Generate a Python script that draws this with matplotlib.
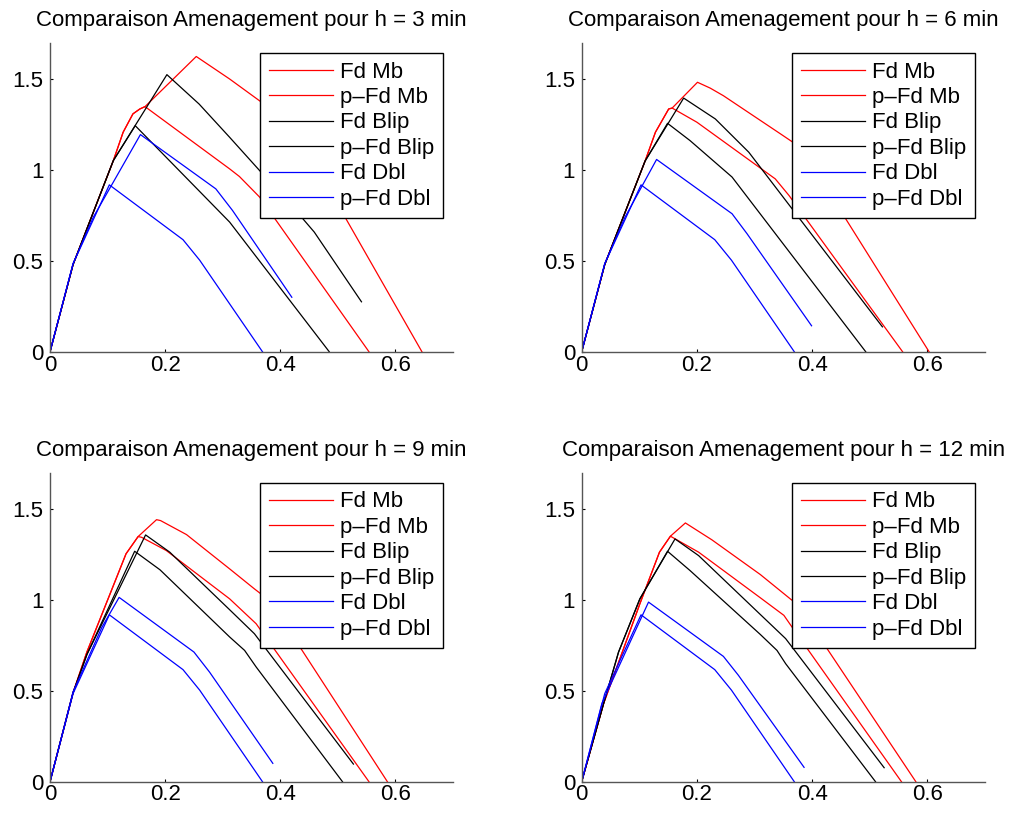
import matplotlib
matplotlib.use('Agg')
import matplotlib.pyplot as plt

plt.rcParams['font.family'] = ['Liberation Sans', 'DejaVu Sans']

#### values, one sublist per panel (h = 3, 6, 9, 12 min) ####
h_values = [3, 6, 9, 12]
labels = ['Fd Mb', 'p\u2013Fd Mb', 'Fd Blip', 'p\u2013Fd Blip', 'Fd Dbl', 'p\u2013Fd Dbl']
colors = ['r', 'r', 'k', 'k', 'b', 'b']

fd_mb_x = [[0, 0.04, 0.11, 0.127, 0.144, 0.156, 0.165, 0.254, 0.312, 0.364, 0.424, 0.646],
           [0, 0.04, 0.11, 0.128, 0.151, 0.157, 0.201, 0.223, 0.246, 0.345, 0.381, 0.603],
           [0, 0.04, 0.064, 0.132, 0.153, 0.185, 0.192, 0.237, 0.312, 0.355, 0.382, 0.586],
           [0, 0.038, 0.101, 0.135, 0.154, 0.18, 0.226, 0.31, 0.362, 0.375, 0.58]]
fd_mb_y = [[0, 0.48, 1.053, 1.209, 1.31, 1.337, 1.35, 1.626, 1.502, 1.382, 1.232, 0],
           [0, 0.48, 1.05, 1.209, 1.337, 1.342, 1.484, 1.452, 1.41, 1.2, 1.123, 0],
           [0, 0.49, 0.714, 1.255, 1.35, 1.443, 1.438, 1.361, 1.172, 1.062, 0.996, 0],
           [0, 0.43, 0.98, 1.264, 1.352, 1.425, 1.332, 1.141, 1.007, 0.975, 0]]

p_fd_mb_x = [[0, 0.04, 0.11, 0.127, 0.144, 0.156, 0.165, 0.312, 0.329, 0.364, 0.554],
             [0, 0.04, 0.11, 0.128, 0.151, 0.157, 0.2, 0.336, 0.36, 0.557],
             [0, 0.04, 0.064, 0.132, 0.153, 0.159, 0.202, 0.312, 0.358, 0.554],
             [0, 0.038, 0.101, 0.135, 0.154, 0.203, 0.31, 0.351, 0.365, 0.555]]
p_fd_mb_y = [[0, 0.48, 1.053, 1.209, 1.31, 1.337, 1.35, 1.007, 0.965, 0.852, 0],
             [0, 0.48, 1.05, 1.209, 1.337, 1.342, 1.264, 0.952, 0.86, 0],
             [0, 0.49, 0.714, 1.255, 1.35, 1.346, 1.273, 1.007, 0.87, 0],
             [0, 0.43, 0.98, 1.264, 1.352, 1.264, 1.013, 0.916, 0.852, 0]]

fd_blip_x = [[0, 0.04, 0.11, 0.203, 0.259, 0.312, 0.364, 0.439, 0.459, 0.541],
             [0, 0.04, 0.11, 0.177, 0.232, 0.29, 0.522],
             [0, 0.04, 0.064, 0.166, 0.208, 0.312, 0.355, 0.527],
             [0, 0.038, 0.064, 0.101, 0.162, 0.203, 0.31, 0.354, 0.525]]
fd_blip_y = [[0, 0.48, 1.053, 1.526, 1.364, 1.181, 0.998, 0.733, 0.659, 0.275],
             [0, 0.48, 1.05, 1.397, 1.282, 1.099, 0.137],
             [0, 0.49, 0.70, 1.359, 1.264, 0.947, 0.815, 0.097],
             [0, 0.43, 0.714, 1.007, 1.337, 1.245, 0.921, 0.788, 0.077]]

p_fd_blip_x = [[0, 0.04, 0.11, 0.148, 0.312, 0.485],
               [0, 0.04, 0.11, 0.149, 0.188, 0.261, 0.493],
               [0, 0.04, 0.064, 0.147, 0.191, 0.312, 0.338, 0.358, 0.508],
               [0, 0.038, 0.064, 0.101, 0.149, 0.188, 0.31, 0.339, 0.354, 0.51]]
p_fd_blip_y = [[0, 0.48, 1.053, 1.245, 0.714, 0],
               [0, 0.48, 1.05, 1.258, 1.163, 0.962, 0],
               [0, 0.49, 0.70, 1.269, 1.167, 0.797, 0.723, 0.632, 0],
               [0, 0.43, 0.714, 1.007, 1.269, 1.163, 0.811, 0.723, 0.65, 0]]

fd_dbl_x = [[0, 0.04, 0.075, 0.157, 0.288, 0.317, 0.42],
            [0, 0.04, 0.075, 0.13, 0.261, 0.287, 0.399],
            [0, 0.04, 0.09, 0.12, 0.25, 0.277, 0.387],
            [0, 0.035, 0.09, 0.116, 0.246, 0.272, 0.386]]
fd_dbl_y = [[0, 0.485, 0.74, 1.196, 0.897, 0.778, 0.30],
            [0, 0.485, 0.74, 1.059, 0.76, 0.65, 0.143],
            [0, 0.495, 0.85, 1.015, 0.714, 0.604, 0.101],
            [0, 0.43, 0.81, 0.989, 0.69, 0.586, 0.079]]

p_fd_dbl_x = [0, 0.04, 0.103, 0.231, 0.26, 0.369]
p_fd_dbl_y = [0, 0.485, 0.919, 0.617, 0.504, 0]

xticks = [0, 0.2, 0.4, 0.6]
xtick_labels = ['0', '0.2', '0.4', '0.6']
yticks = [0, 0.5, 1, 1.5]
ytick_labels = ['0', '0.5', '1', '1.5']

fig = plt.figure(figsize=(10.15, 8.14), dpi=100)
positions = [[0.0493, 0.5679, 0.397, 0.3792], [0.5731, 0.5679, 0.3973, 0.3792],
             [0.0493, 0.0397, 0.397, 0.3792], [0.5731, 0.0397, 0.3973, 0.3792]]

for i, h in enumerate(h_values):
    ax = fig.add_axes(positions[i])
    series = [(fd_mb_x[i], fd_mb_y[i]), (p_fd_mb_x[i], p_fd_mb_y[i]),
              (fd_blip_x[i], fd_blip_y[i]), (p_fd_blip_x[i], p_fd_blip_y[i]),
              (fd_dbl_x[i], fd_dbl_y[i]), (p_fd_dbl_x, p_fd_dbl_y)]
    for (x, y), lab, c in zip(series, labels, colors):
        ax.plot(x, y, color=c, lw=0.9, label=lab)
    ax.set_xlim(0, 0.7)
    ax.set_ylim(0, 1.7)
    ax.set_xticks(xticks)
    ax.set_xticklabels(xtick_labels)
    ax.set_yticks(yticks)
    ax.set_yticklabels(ytick_labels)
    ax.tick_params(direction='in', length=2.5, width=0.8, labelsize=16)
    ax.tick_params(axis='x', pad=2)
    ax.tick_params(axis='y', pad=4.8)
    ax.spines['top'].set_visible(False)
    ax.spines['right'].set_visible(False)
    for s in ['left', 'bottom']:
        ax.spines[s].set_color('#555555')
        ax.spines[s].set_linewidth(1.0)
    ax.set_title('Comparaison Amenagement pour h = ' + str(h) + ' min', fontsize=16, pad=12)
    leg = ax.legend(loc='upper right', fontsize=16, frameon=True, fancybox=False,
                    edgecolor='k', framealpha=1, handlelength=2.88, handletextpad=0.34,
                    labelspacing=0.2, borderpad=0.38, borderaxespad=0.45)
    leg.get_frame().set_linewidth(1.0)

fig.savefig('out.png', dpi=100)
